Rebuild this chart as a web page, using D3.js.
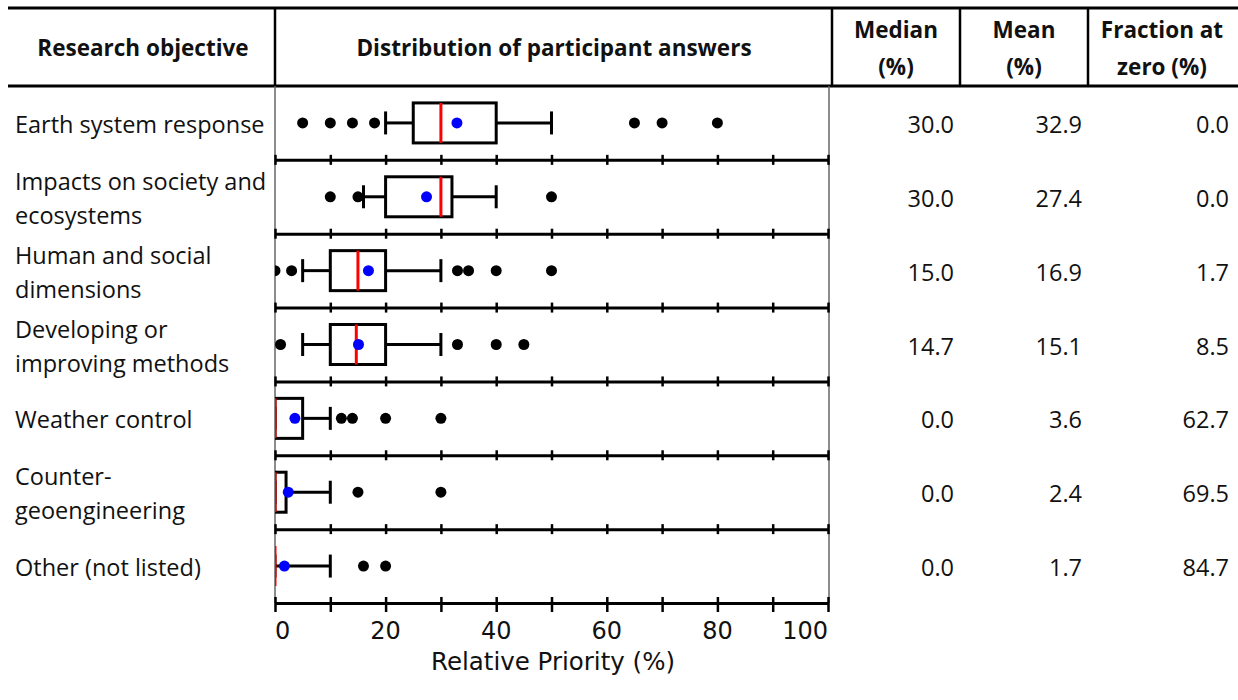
<!DOCTYPE html>
<html><head><meta charset="utf-8">
<script src="https://cdn.jsdelivr.net/npm/d3@7"></script>
<style>body{margin:0;background:#fff}</style>
</head><body><svg id="c" width="1238" height="700"></svg>
<script>
// ---- data ----
const categories = ["Earth system response","Impacts on society and\necosystems","Human and social\ndimensions","Developing or\nimproving methods","Weather control","Counter-\ngeoengineering","Other (not listed)"];
const whiskerLow  = [20, 16, 5, 5, 0, 0, 0];
const q1          = [25, 20, 10, 10, 0, 0, 0];
const medians     = [30, 30, 15, 14.7, 0, 0, 0];
const q3          = [40, 32, 20, 20, 5, 2, 0];
const whiskerHigh = [50, 40, 30, 30, 10, 10, 10];
const means       = [32.9, 27.4, 16.9, 15.1, 3.6, 2.4, 1.7];
const fractionZero= [0.0, 0.0, 1.7, 8.5, 62.7, 69.5, 84.7];
const outliers    = [[5,10,14,18,65,70,80],[10,15,50],[0,3,33,35,40,50],[1,33,40,45],[12,14,20,30],[15,30],[16,20]];
const headers     = ["Research objective","Distribution of participant answers","Median\n(%)","Mean\n(%)","Fraction at\nzero (%)"];
const tickValues  = [0,10,20,30,40,50,60,70,80,90,100];
const tickLabels  = [0,20,40,60,80,100];
const axisTitle   = "Relative Priority (%)";

// ---- layout ----
const svg = d3.select("#c");
const FONT = "'Open Sans', 'Noto Sans', sans-serif";
const AXFONT = "'DejaVu Sans', sans-serif";
const topY = 8, headY = 86, botY = 603;
const x = d3.scaleLinear().domain([0,100]).range([275,828]);
const y = d3.scaleBand().domain(d3.range(categories.length)).range([headY, botY]);
const bw = 40, capW = 23;

svg.append("defs").append("clipPath").attr("id","plotclip")
  .append("rect").attr("x",x(0)).attr("y",headY).attr("width",x(100)-x(0)).attr("height",botY-headY);

// header rules
svg.append("line").attr("x1",8).attr("x2",1238).attr("y1",topY).attr("y2",topY).attr("stroke","#000").attr("stroke-width",3);
svg.append("line").attr("x1",8).attr("x2",1238).attr("y1",headY).attr("y2",headY).attr("stroke","#000").attr("stroke-width",3);
const dividers = [275, 832, 960, 1088];
dividers.forEach(d => svg.append("line").attr("x1",d).attr("x2",d).attr("y1",topY).attr("y2",headY).attr("stroke","#000").attr("stroke-width",2.5));

// header text
const headCx = [143, 554, 896, 1024, 1162];
headers.forEach((h,i) => {
  const lines = h.split("\n");
  const t = svg.append("text").attr("font-family",FONT).attr("font-weight","bold").attr("font-size",22.5)
    .attr("fill","#111").attr("text-anchor","middle");
  lines.forEach((l,j) => {
    const cy = lines.length === 1 ? 47 : 47 + (j === 0 ? -18 : 19);
    t.append("tspan").attr("x",headCx[i]).attr("y",cy).attr("dominant-baseline","central").text(l);
  });
});

// plot borders (left/right spines)
svg.append("line").attr("x1",x(0)).attr("x2",x(0)).attr("y1",headY).attr("y2",botY).attr("stroke","#666").attr("stroke-width",1.5);
svg.append("line").attr("x1",x(100)+1).attr("x2",x(100)+1).attr("y1",headY).attr("y2",botY).attr("stroke","#666").attr("stroke-width",1.5);

// row separators with ticks
for (let i = 1; i <= categories.length; i++) {
  const yy = i < categories.length ? y(i) : botY;
  const g = svg.append("g").attr("transform",`translate(0,${yy})`)
    .call(d3.axisBottom(x).tickValues(tickValues).tickSize(0).tickSizeOuter(0).tickFormat(""));
  g.select(".domain").attr("stroke","#000").attr("stroke-width",3);
  g.selectAll(".tick line").attr("y1", i < categories.length ? -5 : -6).attr("y2", i < categories.length ? 5 : 9)
    .attr("stroke","#000").attr("stroke-width",2.5);
  g.selectAll(".tick text").remove();
}

// bottom tick labels
tickLabels.forEach(v => {
  svg.append("text").attr("x",x(v)).attr("y",639).attr("font-family",AXFONT).attr("font-size",24)
    .attr("fill","#111").attr("text-anchor", v === 0 ? "start" : (v === 100 ? "end" : "middle")).text(v);
});
svg.append("text").attr("x",553).attr("y",670).attr("font-family",AXFONT).attr("font-size",24.5)
  .attr("fill","#111").attr("text-anchor","middle").text(axisTitle);

// box plots
const plot = svg.append("g").attr("clip-path","url(#plotclip)");
categories.forEach((c,i) => {
  const cy = y(i) + y.bandwidth()/2;
  const g = plot.append("g");
  g.append("line").attr("x1",x(whiskerLow[i])).attr("x2",x(q1[i])).attr("y1",cy).attr("y2",cy).attr("stroke","#000").attr("stroke-width",3);
  g.append("line").attr("x1",x(q3[i])).attr("x2",x(whiskerHigh[i])).attr("y1",cy).attr("y2",cy).attr("stroke","#000").attr("stroke-width",3);
  [whiskerLow[i], whiskerHigh[i]].forEach(v => g.append("line").attr("x1",x(v)).attr("x2",x(v))
    .attr("y1",cy-capW/2).attr("y2",cy+capW/2).attr("stroke","#000").attr("stroke-width",3));
  if (q3[i] > q1[i]) {
    g.append("rect").attr("x",x(q1[i])).attr("y",cy-bw/2).attr("width",x(q3[i])-x(q1[i])).attr("height",bw)
      .attr("fill","none").attr("stroke","#000").attr("stroke-width",3);
  }
  g.append("line").attr("x1",x(medians[i])).attr("x2",x(medians[i])).attr("y1",cy-bw/2).attr("y2",cy+bw/2)
    .attr("stroke","#ff0000").attr("stroke-width",3);
  outliers[i].forEach(v => g.append("circle").attr("cx",x(v)).attr("cy",cy).attr("r",5.5).attr("fill","#000"));
  g.append("circle").attr("cx",x(means[i])).attr("cy",cy).attr("r",5.5).attr("fill","#0000ff");

  const lines = c.split("\n");
  const t = svg.append("text").attr("font-family",FONT).attr("font-size",23.5).attr("fill","#111");
  lines.forEach((l,j) => {
    const ly = lines.length === 1 ? cy + 1 : cy + (j === 0 ? -16 : 18);
    t.append("tspan").attr("x",15).attr("y",ly).attr("dominant-baseline","central").text(l);
  });

  const vals = [medians[i], means[i], fractionZero[i]];
  const rx = [954, 1082, 1229];
  vals.forEach((v,k) => svg.append("text").attr("x",rx[k]).attr("y",cy+1).attr("dominant-baseline","central")
    .attr("text-anchor","end").attr("font-family",FONT).attr("font-size",23.5).attr("fill","#111").text(v.toFixed(1)));
});
</script></body></html>
